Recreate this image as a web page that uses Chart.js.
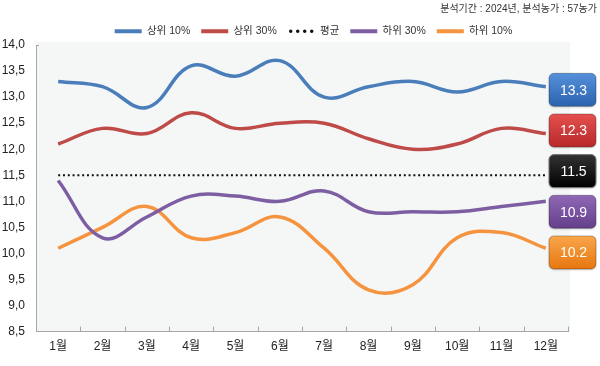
<!DOCTYPE html>
<html>
<head>
<meta charset="utf-8">
<script src="https://cdn.jsdelivr.net/npm/chart.js@4.4.1/dist/chart.umd.min.js"></script>
<style>
html,body{margin:0;padding:0;background:#ffffff;}
#wrap{width:600px;height:366px;position:relative;}
</style>
</head>
<body>
<div id="wrap"><canvas id="c" width="600" height="366"></canvas></div>
<script>
// ---- data ----
const categories = ['1월','2월','3월','4월','5월','6월','7월','8월','9월','10월','11월','12월'];
const top10    = [13.3, 13.2, 12.8, 13.6, 13.4, 13.7, 13.0, 13.2, 13.3, 13.1, 13.3, 13.2];
const top30    = [12.1, 12.4, 12.3, 12.7, 12.4, 12.5, 12.5, 12.2, 12.0, 12.1, 12.4, 12.3];
const average  = [11.5, 11.5, 11.5, 11.5, 11.5, 11.5, 11.5, 11.5, 11.5, 11.5, 11.5, 11.5];
const bottom30 = [11.4, 10.3, 10.7, 11.1, 11.1, 11.0, 11.2, 10.8, 10.8, 10.8, 10.9, 11.0];
const bottom10 = [10.1, 10.5, 10.9, 10.3, 10.4, 10.7, 10.1, 9.3, 9.4, 10.3, 10.4, 10.1];
const seriesNames = ['상위 10%', '상위 30%', '평균', '하위 30%', '하위 10%'];
const annualLabels = ['13.3', '12.3', '11.5', '10.9', '10.2'];
const subtitleText = '분석기간 : 2024년, 분석농가 : 57농가';
const yMin = 8.5, yMax = 14.0, yStep = 0.5;

// ---- styles ----
const lineColors = ['#4a7ebb', '#be4b48', '#111111', '#7e5ea3', '#f5933f'];
const boxGradients = [
  ['#5590db', '#2c62ad'],
  ['#e4504f', '#b8292b'],
  ['#333333', '#000000'],
  ['#9068b6', '#643f8a'],
  ['#f9a64b', '#e77710']
];
const FONT = '"Liberation Sans", "Noto Sans CJK KR", sans-serif';
const AXIS_COLOR = '#a6a6a6';

const bgPlugin = {
  id: 'plotBg',
  beforeDraw(chart) {
    const {ctx, chartArea: a} = chart;
    ctx.save();
    ctx.fillStyle = '#f5f7f7';
    ctx.fillRect(a.left, a.top - 3, a.right - a.left + 2, a.bottom - a.top + 3);
    ctx.restore();
  }
};

const legendShift = {
  id: 'legendShift',
  afterLayout(chart) {
    const lg = chart.legend;
    if (lg) { lg.left += 15; lg.right += 15; lg.top += 1.5; lg.bottom += 1.5; }
  }
};

const tickPlugin = {
  id: 'innerTicks',
  afterDraw(chart) {
    const {ctx, chartArea: a, scales: {x, y}} = chart;
    ctx.save();
    ctx.strokeStyle = AXIS_COLOR;
    ctx.lineWidth = 1;
    ctx.beginPath();
    const n = categories.length;
    const half = (x.getPixelForValue(1) - x.getPixelForValue(0)) / 2;
    for (let i = 0; i < n; i++) {
      const px = Math.round(x.getPixelForValue(i) + half) + 0.5;
      ctx.moveTo(px, a.bottom);
      ctx.lineTo(px, a.bottom - 5);
    }
    const ty = Math.round(y.getPixelForValue(yMax)) + 0.5;
    ctx.moveTo(a.left, ty);
    ctx.lineTo(a.left + 3, ty);
    ctx.stroke();
    ctx.restore();
  }
};

const boxPlugin = {
  id: 'valueBoxes',
  afterDatasetsDraw(chart) {
    const {ctx, chartArea: a, scales: {y}} = chart;
    const ppu = y.getPixelForValue(yMax - 1) - y.getPixelForValue(yMax);
    const centerY = y.getPixelForValue(average[average.length - 1]) - 0.08 * ppu;
    const spacing = 0.78 * ppu;
    const w = 47, h = 33, left = a.right - 19;
    ctx.save();
    annualLabels.forEach((lab, i) => {
      const cy = centerY + (i - 2) * spacing;
      const top = cy - h / 2;
      const g = ctx.createLinearGradient(0, top, 0, top + h);
      g.addColorStop(0, boxGradients[i][0]);
      g.addColorStop(1, boxGradients[i][1]);
      ctx.shadowColor = 'rgba(0,0,0,0.25)';
      ctx.shadowBlur = 2;
      ctx.shadowOffsetY = 1;
      ctx.beginPath();
      ctx.roundRect(left, top, w, h, 5);
      ctx.fillStyle = g;
      ctx.fill();
      ctx.shadowColor = 'transparent';
      ctx.lineWidth = 1;
      ctx.strokeStyle = i === 2 ? '#777777' : 'rgba(0,0,0,0.25)';
      ctx.stroke();
      ctx.fillStyle = '#ffffff';
      ctx.font = '14px "Liberation Sans", sans-serif';
      ctx.textAlign = 'center';
      ctx.textBaseline = 'middle';
      ctx.fillText(lab, left + w / 2 + 1, cy + 1);
    });
    ctx.restore();
  }
};

const seriesData = [top10, top30, average, bottom30, bottom10];
const datasets = seriesData.map((d, i) => {
  const isAvg = i === 2;
  return {
    label: seriesNames[i],
    data: d,
    borderColor: lineColors[i],
    backgroundColor: lineColors[i],
    borderWidth: isAvg ? 2.2 : 3.5,
    borderDash: isAvg ? [2, 2.8] : [],
    pointRadius: 0,
    pointHoverRadius: 0,
    tension: isAvg ? 0 : 0.4,
    fill: false
  };
});

new Chart(document.getElementById('c'), {
  type: 'line',
  data: { labels: categories, datasets },
  options: {
    responsive: false,
    devicePixelRatio: 1,
    animation: false,
    events: [],
    layout: { padding: { left: 0, right: 3, top: 0, bottom: 4 } },
    plugins: {
      title: {
        display: true,
        text: subtitleText,
        align: 'end',
        color: '#333333',
        font: { family: FONT, size: 10, lineHeight: 1.2, weight: 'normal' },
        padding: { top: 3, bottom: -1.5 }
      },
      legend: {
        display: true,
        position: 'top',
        align: 'center',
        labels: {
          usePointStyle: true,
          pointStyle: 'line',
          pointStyleWidth: 27,
          padding: 11,
          color: '#333333',
          font: { family: FONT, size: 10.5 },
          generateLabels(chart) {
            const items = Chart.defaults.plugins.legend.labels.generateLabels(chart);
            return items.map((it, i) => {
              it.lineWidth = 4;
              it.pointStyle = 'line';
              if (i === 2) {
                it.lineDash = [0, 7];
                it.lineCap = 'round';
                it.lineWidth = 3.5;
                it.lineDashOffset = -3;
              } else {
                it.lineDash = [];
                it.lineCap = 'butt';
              }
              return it;
            });
          }
        }
      },
      tooltip: { enabled: false }
    },
    scales: {
      x: {
        type: 'category',
        offset: true,
        grid: { display: false, drawTicks: false, tickLength: 0 },
        border: { display: true, color: AXIS_COLOR, width: 1 },
        ticks: { padding: 8, color: '#222222', font: { family: FONT, size: 12 }, maxRotation: 0, autoSkip: false }
      },
      y: {
        min: yMin,
        max: yMax,
        grid: { display: false, drawTicks: false, tickLength: 0 },
        border: { display: true, color: AXIS_COLOR, width: 1 },
        ticks: {
          stepSize: yStep,
          padding: 11,
          color: '#222222',
          font: { family: FONT, size: 12 },
          callback: v => Number(v).toFixed(1).replace('.', ',')
        },
        afterFit(s) { s.width = 36; }
      },
      yR: {
        position: 'right',
        display: true,
        grid: { display: false, drawTicks: false, tickLength: 0 },
        border: { display: false },
        ticks: { display: false },
        afterFit(s) { s.width = 29; }
      }
    }
  },
  plugins: [bgPlugin, legendShift, tickPlugin, boxPlugin]
});
</script>
</body>
</html>
